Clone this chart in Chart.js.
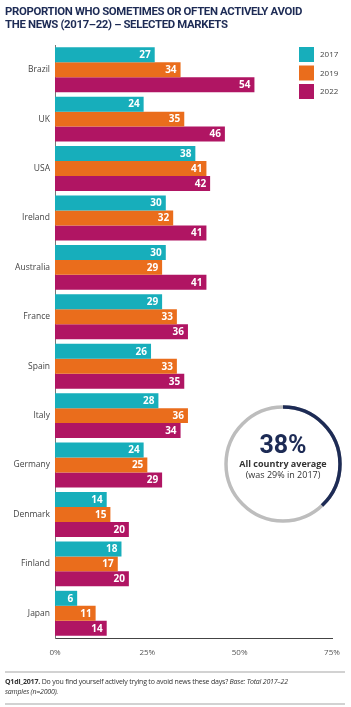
<!DOCTYPE html>
<html>
<head>
<meta charset="utf-8">
<script src="https://cdn.jsdelivr.net/npm/chart.js@4"></script>
<style>
  body { margin: 0; background: #fff; font-family: "Open Sans", sans-serif; }
  #wrap { position: relative; width: 351px; height: 707px; overflow: hidden; }
  #myChart { position: absolute; left: 0; top: 0; }
  .title { position: absolute; left: 5px; top: 5px; font-family: Roboto, sans-serif; font-weight: 700;
    font-size: 11.4px; line-height: 13px; color: #1d2b55; letter-spacing: -0.35px; white-space: nowrap; }
  .avg { position: absolute; left: 225px; top: 432px; width: 116px; text-align: center; color: #333; }
  .avg .big { font-family: Roboto, sans-serif; font-weight: 700; font-size: 25px; line-height: 26px; color: #1d2b55; }
  .avg .sub { font-size: 9px; line-height: 11px; }
  .rule { position: absolute; left: 5px; width: 340px; height: 2px; background: #d2d2d2; }
  .foot { position: absolute; left: 5px; top: 677px; width: 322px; font-size: 7px; line-height: 10px; color: #333; letter-spacing: -0.2px; }
</style>
</head>
<body>
<div id="wrap">
  <canvas id="myChart" width="351" height="707"></canvas>
  <div class="title">PROPORTION WHO SOMETIMES OR OFTEN ACTIVELY AVOID<br>THE NEWS (2017–22) – SELECTED MARKETS</div>
  <div class="avg"><div class="big">38%</div><div class="sub"><b>All country average</b><br>(was 29% in 2017)</div></div>
  <div class="rule" style="top:671px"></div>
  <div class="foot"><b>Q1di_2017.</b> Do you find yourself actively trying to avoid news these days? <i>Base: Total 2017–22<br>samples (n=2000).</i></div>
  <div class="rule" style="top:703px"></div>
</div>
<script>
// datos
const paises = ["Brazil", "UK", "USA", "Ireland", "Australia", "France", "Spain", "Italy", "Germany", "Denmark", "Finland", "Japan"];
const anni = ["2017", "2019", "2022"];
const valori2017 = [27, 24, 38, 30, 30, 29, 26, 28, 24, 14, 18, 6];
const valori2019 = [34, 35, 41, 32, 29, 33, 33, 36, 25, 15, 17, 11];
const valori2022 = [54, 46, 42, 41, 41, 36, 35, 34, 29, 20, 20, 14];
const tickX = [0, 25, 50, 75];
const media = 38; // all country average

const colori = ["#17aebb", "#ea6d1c", "#b01563"];

// etichette dentro le barre
const etichette = {
  id: "etichette",
  afterDatasetsDraw(chart) {
    const ctx = chart.ctx;
    ctx.save();
    ctx.font = "bold 10px 'Open Sans'";
    ctx.fillStyle = "#fff";
    ctx.textAlign = "right";
    ctx.textBaseline = "middle";
    chart.data.datasets.forEach((ds, i) => {
      chart.getDatasetMeta(i).data.forEach((bar, j) => {
        ctx.fillText(ds.data[j], bar.x - 4, bar.y + 0.5);
      });
    });
    ctx.restore();
  },
};

// legenda a quadrati e cerchio della media
const extra = {
  id: "extra",
  afterDraw(chart) {
    const ctx = chart.ctx;
    ctx.save();
    anni.forEach((a, i) => {
      const y = 47 + i * 18.5;
      ctx.fillStyle = colori[i];
      ctx.fillRect(299, y, 15, 15);
      ctx.fillStyle = "#444";
      ctx.font = "8px 'Open Sans'";
      ctx.textBaseline = "middle";
      ctx.fillText(a, 320, y + 8);
    });
    const cx = 283, cy = 464, r = 57;
    ctx.lineWidth = 3.5;
    ctx.strokeStyle = "#bdbdbd";
    ctx.beginPath();
    ctx.arc(cx, cy, r, 0, Math.PI * 2);
    ctx.stroke();
    ctx.strokeStyle = "#1d2b55";
    ctx.beginPath();
    ctx.arc(cx, cy, r, -Math.PI / 2, -Math.PI / 2 + (media / 100) * Math.PI * 2);
    ctx.stroke();
    ctx.restore();
  },
};

const ctx = document.getElementById("myChart").getContext("2d");
const chartInstance = new Chart(ctx, {
  type: "bar",
  data: {
    labels: paises,
    datasets: [
      { label: anni[0], data: valori2017, backgroundColor: colori[0] },
      { label: anni[1], data: valori2019, backgroundColor: colori[1] },
      { label: anni[2], data: valori2022, backgroundColor: colori[2] },
    ],
  },
  options: {
    indexAxis: "y",
    responsive: false,
    animation: false,
    categoryPercentage: 0.91,
    barPercentage: 1,
    layout: { padding: { top: 45, right: 19, bottom: 39, left: 0 } },
    plugins: { legend: { display: false }, tooltip: { enabled: false } },
    scales: {
      x: {
        min: 0,
        max: 75,
        afterBuildTicks: (s) => { s.ticks = tickX.map((v) => ({ value: v })); },
        afterFit: (s) => { s.height = 30; },
        grid: { display: false, drawTicks: false },
        border: { color: "#444", width: 1 },
        ticks: { padding: 10, color: "#555", font: { size: 8, family: "Open Sans" }, callback: (v) => v + "%" },
      },
      y: {
        afterFit: (s) => { s.width = 55; },
        grid: { display: false, drawTicks: false },
        border: { color: "#777", width: 1 },
        ticks: { padding: 5, color: "#444", font: { size: 8.5, family: "Open Sans" } },
      },
    },
  },
  plugins: [etichette, extra],
});
</script>
</body>
</html>
